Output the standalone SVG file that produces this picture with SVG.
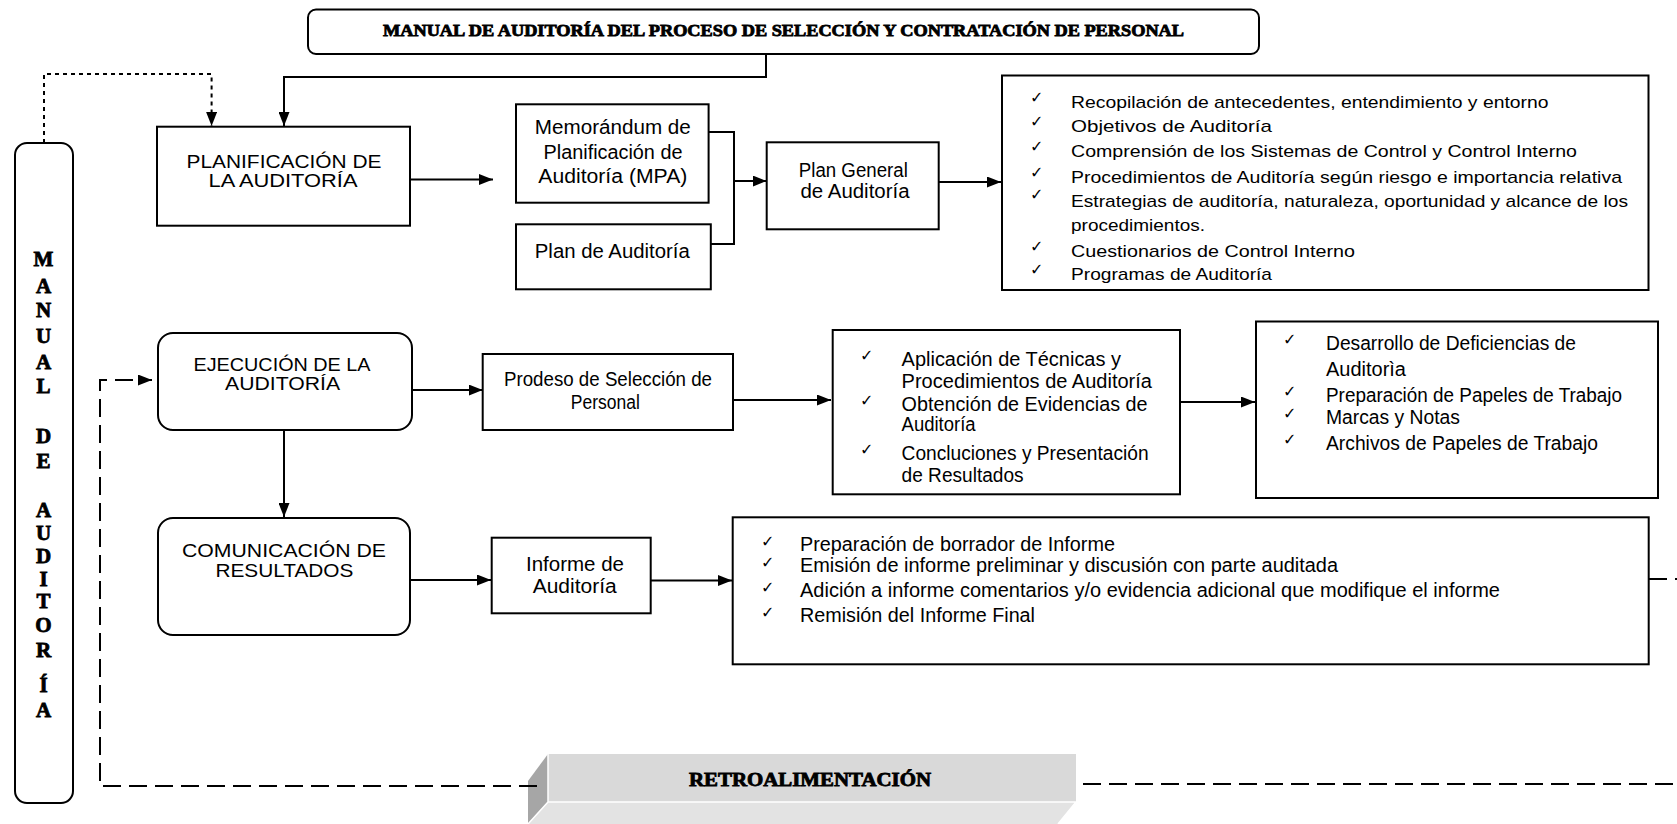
<svg xmlns="http://www.w3.org/2000/svg" width="1677" height="824" viewBox="0 0 1677 824">
<style>
.box{fill:#fff;stroke:#000;stroke-width:2}
.t{font-family:"Liberation Sans",Arial,sans-serif;fill:#000}
.n{font-size:20px}
.u{font-size:18px}
.l{font-size:17px}
.c{text-anchor:middle}
.h{font-family:"Liberation Serif","Times New Roman",serif;font-weight:bold;fill:#000;stroke:#000;stroke-width:0.8}
.ck{font-family:"DejaVu Sans",sans-serif;font-size:16px;fill:#000}
.conn{fill:none;stroke:#000;stroke-width:2}
.dash{stroke-dasharray:18 8}
.dot{stroke-dasharray:4 4}
</style>
<defs>
<marker id="ah" markerWidth="14" markerHeight="11" refX="14" refY="5.5" orient="auto" markerUnits="userSpaceOnUse"><path d="M0,0 L14,5.5 L0,11 z" fill="#000"/></marker>
</defs>
<rect width="1677" height="824" fill="#fff"/>

<g id="title">
<rect class="box" x="308" y="9.5" width="951" height="44.5" rx="8"/>
<text class="h c" x="783.5" y="35.5" font-size="16" textLength="801" lengthAdjust="spacingAndGlyphs">MANUAL DE AUDITORÍA DEL PROCESO DE SELECCIÓN Y CONTRATACIÓN DE PERSONAL</text>
</g>

<g id="manual">
<rect class="box" x="15" y="143" width="58" height="660" rx="12"/>
<g class="h c" font-size="21">
<text x="43.5" y="266">M</text>
<text x="43.5" y="292.7">A</text>
<text x="43.5" y="317.3">N</text>
<text x="43.5" y="342.7">U</text>
<text x="43.5" y="369.3">A</text>
<text x="43.5" y="392.7">L</text>
<text x="43.5" y="443">D</text>
<text x="43.5" y="467.5">E</text>
<text x="43.5" y="517.3">A</text>
<text x="43.5" y="540">U</text>
<text x="43.5" y="563.3">D</text>
<text x="43.5" y="586">I</text>
<text x="43.5" y="608.3">T</text>
<text x="43.5" y="631.7">O</text>
<text x="43.5" y="657.3">R</text>
<text x="43.5" y="691.7">Í</text>
<text x="43.5" y="717.3">A</text>
</g>
</g>

<g id="planificacion">
<rect class="box" x="157" y="126.7" width="253" height="99"/>
<text class="t u c" x="284" y="168" textLength="195" lengthAdjust="spacingAndGlyphs">PLANIFICACIÓN DE</text>
<text class="t u c" x="283" y="187" textLength="149" lengthAdjust="spacingAndGlyphs">LA AUDITORÍA</text>
</g>

<g id="memorandum">
<rect class="box" x="516" y="104.3" width="192.6" height="98.4"/>
<text class="t n c" x="612.8" y="134" textLength="156" lengthAdjust="spacingAndGlyphs">Memorándum de</text>
<text class="t n c" x="613" y="159" textLength="139" lengthAdjust="spacingAndGlyphs">Planificación de</text>
<text class="t n c" x="612.8" y="183" textLength="149" lengthAdjust="spacingAndGlyphs">Auditoría (MPA)</text>
</g>

<g id="plan-auditoria">
<rect class="box" x="516" y="224.3" width="194.8" height="65"/>
<text class="t n c" x="612.3" y="258" textLength="155" lengthAdjust="spacingAndGlyphs">Plan de Auditoría</text>
</g>

<g id="plan-general">
<rect class="box" x="766.7" y="142.3" width="172" height="87"/>
<text class="t n c" x="853.3" y="177" textLength="109" lengthAdjust="spacingAndGlyphs">Plan General</text>
<text class="t n c" x="855" y="198" textLength="109" lengthAdjust="spacingAndGlyphs">de Auditoría</text>
</g>

<g id="lista-planificacion">
<rect class="box" x="1002" y="75.5" width="646.5" height="214.5"/>
<text class="ck" x="1030" y="103">✓</text>
<text class="ck" x="1030" y="127">✓</text>
<text class="ck" x="1030" y="152">✓</text>
<text class="ck" x="1030" y="178">✓</text>
<text class="ck" x="1030" y="200">✓</text>
<text class="ck" x="1030" y="252">✓</text>
<text class="ck" x="1030" y="275">✓</text>
<text class="t l" x="1071" y="108" textLength="477.5" lengthAdjust="spacingAndGlyphs">Recopilación de antecedentes, entendimiento y entorno</text>
<text class="t l" x="1071" y="132" textLength="201" lengthAdjust="spacingAndGlyphs">Objetivos de Auditoría</text>
<text class="t l" x="1071" y="157" textLength="506" lengthAdjust="spacingAndGlyphs">Comprensión de los Sistemas de Control y Control Interno</text>
<text class="t l" x="1071" y="183" textLength="551" lengthAdjust="spacingAndGlyphs">Procedimientos de Auditoría según riesgo e importancia relativa</text>
<text class="t l" x="1071" y="207" textLength="557" lengthAdjust="spacingAndGlyphs">Estrategias de auditoría, naturaleza, oportunidad y alcance de los</text>
<text class="t l" x="1071" y="231" textLength="134" lengthAdjust="spacingAndGlyphs">procedimientos.</text>
<text class="t l" x="1071" y="257" textLength="284" lengthAdjust="spacingAndGlyphs">Cuestionarios de Control Interno</text>
<text class="t l" x="1071" y="280" textLength="201" lengthAdjust="spacingAndGlyphs">Programas de Auditoría</text>
</g>

<g id="ejecucion">
<rect class="box" x="158" y="333" width="254" height="97" rx="15"/>
<text class="t u c" x="282" y="371" textLength="177" lengthAdjust="spacingAndGlyphs">EJECUCIÓN DE LA</text>
<text class="t u c" x="282.6" y="390" textLength="115" lengthAdjust="spacingAndGlyphs">AUDITORÍA</text>
</g>

<g id="prodeso">
<rect class="box" x="482.7" y="354" width="250.3" height="76"/>
<text class="t n c" x="608" y="386" textLength="208" lengthAdjust="spacingAndGlyphs">Prodeso de Selección de</text>
<text class="t n c" x="605.3" y="409" textLength="69" lengthAdjust="spacingAndGlyphs">Personal</text>
</g>

<g id="aplicacion">
<rect class="box" x="832.7" y="330" width="347.3" height="164.3"/>
<text class="ck" x="860" y="361">✓</text>
<text class="ck" x="860" y="406">✓</text>
<text class="ck" x="860" y="455">✓</text>
<text class="t n" x="901.6" y="366" textLength="219.4" lengthAdjust="spacingAndGlyphs">Aplicación de Técnicas y</text>
<text class="t n" x="901.6" y="388" textLength="250.4" lengthAdjust="spacingAndGlyphs">Procedimientos de Auditoría</text>
<text class="t n" x="901.6" y="411" textLength="246" lengthAdjust="spacingAndGlyphs">Obtención de Evidencias de</text>
<text class="t n" x="901.6" y="431" textLength="74" lengthAdjust="spacingAndGlyphs">Auditoría</text>
<text class="t n" x="901.6" y="460" textLength="247" lengthAdjust="spacingAndGlyphs">Concluciones y Presentación</text>
<text class="t n" x="901.6" y="482" textLength="122" lengthAdjust="spacingAndGlyphs">de Resultados</text>
</g>

<g id="desarrollo">
<rect class="box" x="1256" y="321.5" width="402" height="176.5"/>
<text class="ck" x="1283" y="345">✓</text>
<text class="ck" x="1283" y="397">✓</text>
<text class="ck" x="1283" y="419">✓</text>
<text class="ck" x="1283" y="445">✓</text>
<text class="t n" x="1326" y="350" textLength="250" lengthAdjust="spacingAndGlyphs">Desarrollo de Deficiencias de</text>
<text class="t n" x="1326" y="376" textLength="80" lengthAdjust="spacingAndGlyphs">Auditorìa</text>
<text class="t n" x="1326" y="402" textLength="296" lengthAdjust="spacingAndGlyphs">Preparación de Papeles de Trabajo</text>
<text class="t n" x="1326" y="424" textLength="134" lengthAdjust="spacingAndGlyphs">Marcas y Notas</text>
<text class="t n" x="1326" y="450" textLength="272" lengthAdjust="spacingAndGlyphs">Archivos de Papeles de Trabajo</text>
</g>

<g id="comunicacion">
<rect class="box" x="158" y="518" width="252" height="117" rx="15"/>
<text class="t u c" x="284" y="557" textLength="204" lengthAdjust="spacingAndGlyphs">COMUNICACIÓN DE</text>
<text class="t u c" x="284.4" y="577" textLength="138" lengthAdjust="spacingAndGlyphs">RESULTADOS</text>
</g>

<g id="informe">
<rect class="box" x="491.7" y="537.7" width="159" height="75.6"/>
<text class="t n c" x="575" y="571" textLength="98" lengthAdjust="spacingAndGlyphs">Informe de</text>
<text class="t n c" x="574.7" y="593" textLength="84" lengthAdjust="spacingAndGlyphs">Auditoría</text>
</g>

<g id="lista-comunicacion">
<rect class="box" x="732.7" y="517.3" width="916" height="147"/>
<text class="ck" x="761" y="547">✓</text>
<text class="ck" x="761" y="568">✓</text>
<text class="ck" x="761" y="593">✓</text>
<text class="ck" x="761" y="618">✓</text>
<text class="t n" x="800" y="550.5" textLength="315" lengthAdjust="spacingAndGlyphs">Preparación de borrador de Informe</text>
<text class="t n" x="800" y="571.5" textLength="538" lengthAdjust="spacingAndGlyphs">Emisión de informe preliminar y discusión con parte auditada</text>
<text class="t n" x="800" y="596.5" textLength="700" lengthAdjust="spacingAndGlyphs">Adición a informe comentarios y/o evidencia adicional que modifique el informe</text>
<text class="t n" x="800" y="621.5" textLength="235" lengthAdjust="spacingAndGlyphs">Remisión del Informe Final</text>
</g>

<g id="retroalimentacion">
<polygon points="548,754 528,781 528,824 548,802" fill="#a6a6a6"/>
<polygon points="548,802 1076,802 1058,824 528,824" fill="#e3e3e3"/>
<rect x="548" y="754" width="528" height="48" fill="#d9d9d9"/>
<path d="M548,754 V802 H1076 M548,802 L528,824 M1076,802 L1058,824" fill="none" stroke="#fff" stroke-width="1.5"/>
<text class="h c" x="810" y="786" font-size="18" textLength="242" lengthAdjust="spacingAndGlyphs">RETROALIMENTACIÓN</text>
</g>

<g id="connectors">
<path class="conn" d="M766,54 V77 H284 V126" marker-end="url(#ah)"/>
<path class="conn dot" d="M44,143 V74 H211.6 V126" marker-end="url(#ah)"/>
<path class="conn" d="M410,179.5 H493" marker-end="url(#ah)"/>
<path class="conn" d="M708.6,132 H734 V244 H710.8"/>
<path class="conn" d="M734,181 H766.7" marker-end="url(#ah)"/>
<path class="conn" d="M938.7,182 H1001" marker-end="url(#ah)"/>
<path class="conn" d="M412,390 H482.7" marker-end="url(#ah)"/>
<path class="conn" d="M733,400 H831" marker-end="url(#ah)"/>
<path class="conn" d="M1180,402 H1255" marker-end="url(#ah)"/>
<path class="conn" d="M284,430 V517" marker-end="url(#ah)"/>
<path class="conn" d="M410,580 H491" marker-end="url(#ah)"/>
<path class="conn" d="M650.7,580.5 H732" marker-end="url(#ah)"/>
<path class="conn dash" d="M1649,579 H1677"/>
<path class="conn dash" d="M1083,784 H1677"/>
<path class="conn dash" d="M537,786 H100 V380 H152" marker-end="url(#ah)"/>
</g>
</svg>
